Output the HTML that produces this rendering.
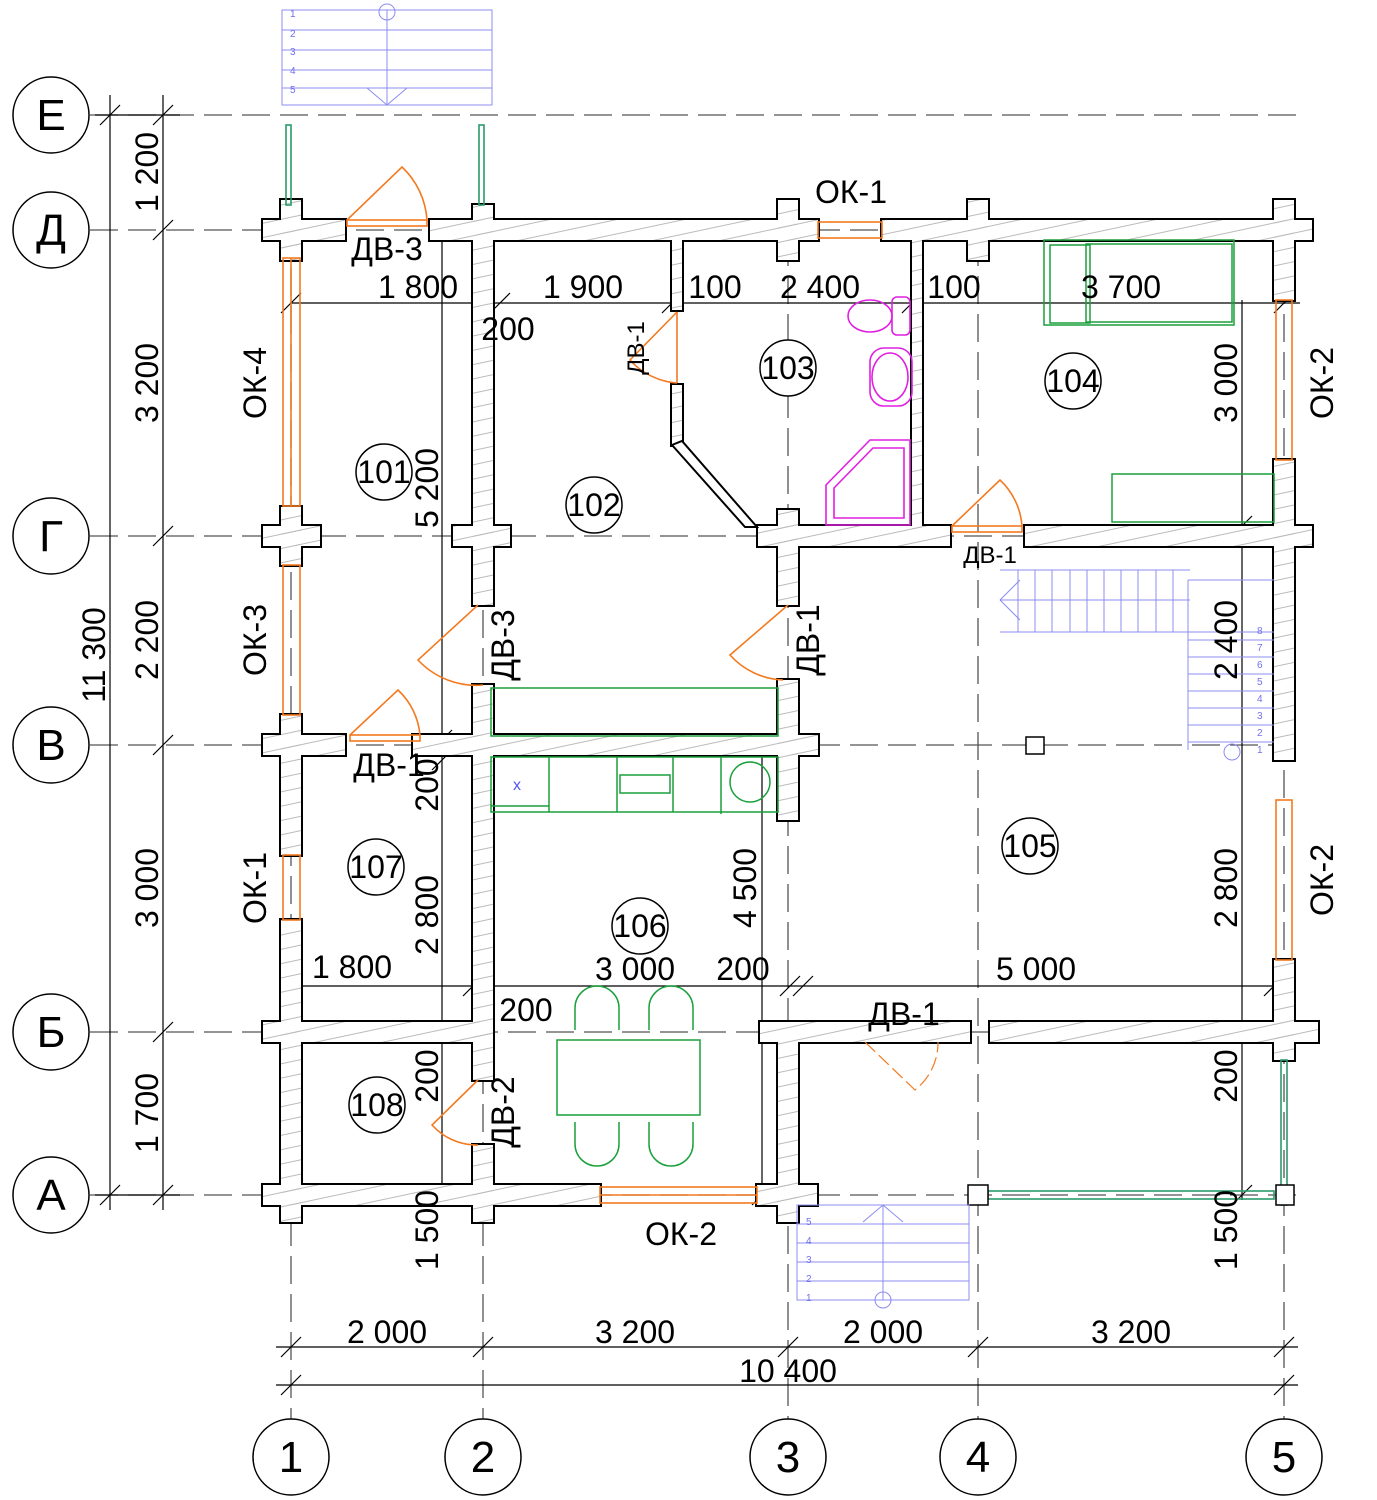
<!DOCTYPE html>
<html><head><meta charset="utf-8"><style>
html,body{margin:0;padding:0;background:#fff}
svg{display:block}
text{font-family:"Liberation Sans Narrow","Liberation Sans",sans-serif;fill:#000}
</style></head><body>
<svg width="1377" height="1500" viewBox="0 0 1377 1500" xmlns="http://www.w3.org/2000/svg">
<defs>
<pattern id="h" width="14" height="14" patternUnits="userSpaceOnUse" patternTransform="rotate(-12)">
<line x1="0" y1="7" x2="14" y2="7" stroke="#bbb" stroke-width="1"/></pattern>
<g id="w">
<rect x="263" y="220" width="82" height="20"/><rect x="281" y="200" width="20" height="60"/>
<rect x="430" y="220" width="388" height="20"/><rect x="473" y="205" width="20" height="30"/>
<rect x="778" y="200" width="20" height="60"/>
<rect x="882" y="220" width="430" height="20"/><rect x="968" y="200" width="20" height="60"/><rect x="1274" y="200" width="20" height="100"/>
<rect x="281" y="240" width="20" height="20"/>
<rect x="263" y="526" width="57" height="20"/><rect x="281" y="507" width="20" height="58"/>
<rect x="263" y="735" width="82" height="20"/><rect x="281" y="715" width="20" height="140"/>
<rect x="281" y="920" width="20" height="302"/>
<rect x="263" y="1022" width="209" height="20"/>
<rect x="263" y="1185" width="337" height="20"/>
<rect x="473" y="240" width="20" height="365"/>
<rect x="453" y="526" width="57" height="20"/>
<rect x="473" y="685" width="20" height="395"/>
<rect x="413" y="735" width="405" height="20"/>
<rect x="473" y="1145" width="20" height="77"/>
<rect x="472" y="1022" width="20" height="20"/>
<rect x="672" y="240" width="10" height="70"/><rect x="672" y="385" width="10" height="60"/>
<rect x="758" y="526" width="192" height="20"/><rect x="778" y="510" width="20" height="95"/>
<rect x="778" y="680" width="20" height="140"/>
<rect x="912" y="240" width="10" height="290"/>
<rect x="1025" y="526" width="287" height="20"/><rect x="1274" y="460" width="20" height="300"/>
<rect x="1274" y="960" width="20" height="100"/>
<rect x="760" y="1022" width="210" height="20"/><rect x="990" y="1022" width="328" height="20"/>
<rect x="778" y="1042" width="20" height="180"/><rect x="757" y="1185" width="60" height="20"/>
</g>
</defs>
<!-- axes -->
<g stroke="#555" stroke-width="1.3" stroke-dasharray="28,10" fill="none">
<line x1="90" y1="115" x2="1300" y2="115"/>
<line x1="90" y1="230" x2="1300" y2="230"/>
<line x1="90" y1="536" x2="1300" y2="536"/>
<line x1="90" y1="745" x2="1300" y2="745"/>
<line x1="90" y1="1032" x2="1300" y2="1032"/>
<line x1="90" y1="1195" x2="1300" y2="1195"/>
<line x1="291" y1="230" x2="291" y2="1420"/>
<line x1="483" y1="230" x2="483" y2="1420"/>
<line x1="788" y1="200" x2="788" y2="1420"/>
<line x1="978" y1="200" x2="978" y2="1420"/>
<line x1="1284" y1="200" x2="1284" y2="1420"/>
</g>
<!-- dimension lines -->
<g stroke="#000" stroke-width="1.2" fill="none">
<line x1="110" y1="95" x2="110" y2="1210"/>
<line x1="163" y1="95" x2="163" y2="1210"/>
<line x1="95" y1="115" x2="180" y2="115"/><line x1="95" y1="1195" x2="180" y2="1195"/>
<line x1="276" y1="1347" x2="1298" y2="1347"/>
<line x1="276" y1="1385" x2="1298" y2="1385"/>
<line x1="290" y1="303" x2="1300" y2="303"/>
<line x1="290" y1="986" x2="1290" y2="986"/>
<line x1="442" y1="240" x2="442" y2="1195"/>
<line x1="1242" y1="300" x2="1242" y2="1200"/>
<line x1="762" y1="750" x2="762" y2="1200"/>
<line x1="672" y1="260" x2="672" y2="310"/>
</g>
<g stroke="#000" stroke-width="1.2">
<path d="M100 125l20-20M153 125l20-20M153 240l20-20M153 546l20-20M153 755l20-20M153 1042l20-20M100 1205l20-20M153 1205l20-20"/>
<path d="M281 1357l20-20M473 1357l20-20M778 1357l20-20M968 1357l20-20M1274 1357l20-20M281 1395l20-20M1274 1395l20-20"/>
<path d="M281 313l20-20M473 313l20-20M490 313l20-20M662 313l20-20M902 313l20-20M1274 313l20-20M281 996l20-20M463 996l20-20M780 996l20-20M793 996l20-20M1264 996l20-20"/>
<path d="M432 750l20-20M432 770l20-20M1232 1042l20-20M1232 1205l20-20M1232 536l20-20M752 1205l20-20"/>
</g>
<!-- walls -->
<use href="#w" fill="#fff" stroke="#000" stroke-width="4"/>
<use href="#w" fill="#fff" stroke="none"/>
<use href="#w" fill="url(#h)" stroke="none"/>
<path d="M672 445L745 527L757 527L682 441Z" fill="#fff" stroke="#000" stroke-width="2"/>
<!-- windows orange -->
<g stroke="#f47a20" stroke-width="1.6" fill="none">
<rect x="283" y="258" width="17" height="248"/><line x1="291" y1="258" x2="291" y2="506"/>
<rect x="283" y="565" width="17" height="150"/>
<rect x="283" y="855" width="17" height="65"/>
<rect x="818" y="222" width="64" height="16"/>
<rect x="1276" y="300" width="16" height="160"/>
<rect x="1276" y="800" width="16" height="160"/>
<rect x="600" y="1187" width="157" height="16"/><line x1="600" y1="1195" x2="757" y2="1195"/>
<rect x="347" y="220" width="80" height="6"/><path d="M347 220L402 167A80 80 0 0 1 427 220"/>
<rect x="350" y="735" width="70" height="6"/><path d="M350 735L398 690A70 70 0 0 1 420 735"/>
<rect x="952" y="526" width="70" height="6"/><path d="M952 526L1000 480A70 70 0 0 1 1022 526"/>
<path d="M478 605L418 660A80 80 0 0 0 483 685"/>
<path d="M788 605L730 655A75 75 0 0 0 783 680"/>
<path d="M677 312L630 360A70 70 0 0 0 677 383"/><line x1="677" y1="312" x2="677" y2="383"/>
<path d="M478 1080L432 1125A60 60 0 0 0 478 1145"/>
<path d="M865 1042L915 1090A60 60 0 0 0 938 1042" stroke-dasharray="14,5" stroke-width="1.2"/>
</g>
<!-- glass green -->
<g stroke="#2a9a6a" stroke-width="1.6" fill="none">
<rect x="286" y="125" width="5" height="80"/><rect x="479" y="125" width="5" height="80"/>
<rect x="988" y="1191" width="286" height="8"/><rect x="1281" y="1060" width="6" height="145"/>
</g>
<rect x="968" y="1185" width="20" height="20" fill="#fff" stroke="#000" stroke-width="1.5"/>
<rect x="1276" y="1185" width="18" height="20" fill="#fff" stroke="#000" stroke-width="1.5"/>
<rect x="1026" y="737" width="18" height="17" fill="#fff" stroke="#000" stroke-width="1.5"/>
<!-- stairs blue -->
<g stroke="#8c8cf0" stroke-width="1" fill="none">
<rect x="282" y="10" width="210" height="95"/>
<path d="M282 30h210M282 50h210M282 70h210M282 88h210M387 10v95M367 88l20 17l20-17"/><circle cx="387" cy="12" r="8"/>
<rect x="797" y="1205" width="172" height="95"/>
<path d="M797 1224h172M797 1243h172M797 1262h172M797 1281h172M883 1205v95M863 1222l20-17l20 17"/><circle cx="883" cy="1300" r="8"/>
<path d="M1000 570h190M1000 632h190M1018 570v62M1035 570v62M1052 570v62M1070 570v62M1087 570v62M1104 570v62M1121 570v62M1138 570v62M1156 570v62M1173 570v62M1000 600l20-20M1000 600l20 20M1000 600h190"/>
<path d="M1188 580h86M1188 750V580M1188 632h86M1188 640h86M1188 657h86M1188 674h86M1188 691h86M1188 708h86M1188 725h86M1188 742h86"/><circle cx="1232" cy="752" r="8"/>
</g>
<g font-size="10" style="font-family:'Liberation Sans',sans-serif">
<text x="290" y="17" style="fill:#7070ee">1</text><text x="290" y="37" style="fill:#7070ee">2</text><text x="290" y="55" style="fill:#7070ee">3</text><text x="290" y="74" style="fill:#7070ee">4</text><text x="290" y="93" style="fill:#7070ee">5</text>
<text x="806" y="1225" style="fill:#7070ee">5</text><text x="806" y="1244" style="fill:#7070ee">4</text><text x="806" y="1263" style="fill:#7070ee">3</text><text x="806" y="1282" style="fill:#7070ee">2</text><text x="806" y="1301" style="fill:#7070ee">1</text>
<text x="1257" y="634" style="fill:#7070ee">8</text><text x="1257" y="651" style="fill:#7070ee">7</text><text x="1257" y="668" style="fill:#7070ee">6</text><text x="1257" y="685" style="fill:#7070ee">5</text><text x="1257" y="702" style="fill:#7070ee">4</text><text x="1257" y="719" style="fill:#7070ee">3</text><text x="1257" y="736" style="fill:#7070ee">2</text><text x="1257" y="753" style="fill:#7070ee">1</text>
</g>
<!-- furniture green -->
<g stroke="#1aa03a" stroke-width="1.5" fill="none">
<rect x="1044" y="240" width="190" height="85"/><rect x="1050" y="245" width="40" height="78"/><rect x="1086" y="244" width="146" height="78"/>
<rect x="1112" y="474" width="162" height="48"/>
<rect x="491" y="688" width="287" height="48"/>
<rect x="491" y="757" width="287" height="55"/><path d="M549 757v55M617 757v55M673 757v55M721 757v57M491 806h58"/>
<rect x="620" y="775" width="50" height="18"/><circle cx="750" cy="782" r="20"/>
<rect x="557" y="1040" width="143" height="75"/>
<path d="M575 1030v-22a22 22 0 0 1 44 0v22M649 1030v-22a22 22 0 0 1 44 0v22M575 1122v22a22 22 0 0 0 44 0v-22M649 1122v22a22 22 0 0 0 44 0v-22"/>
</g>
<text x="513" y="790" font-size="16" style="fill:#5555ee">x</text>
<!-- sanitary magenta -->
<g stroke="#e020e0" stroke-width="1.6" fill="none">
<ellipse cx="870" cy="316" rx="22" ry="16"/><rect x="892" y="297" width="18" height="38" rx="5"/>
<rect x="870" y="348" width="42" height="58" rx="14"/><ellipse cx="890" cy="377" rx="18" ry="24"/>
<path d="M826 485L870 440H910V525H826Z"/><path d="M834 488L873 448H904V518H834Z"/>
</g>
<!-- circles -->
<g stroke="#000" stroke-width="1.5" fill="#fff">
<circle cx="51" cy="115" r="38"/><circle cx="51" cy="230" r="38"/><circle cx="51" cy="536" r="38"/><circle cx="51" cy="745" r="38"/><circle cx="51" cy="1032" r="38"/><circle cx="51" cy="1195" r="38"/>
<circle cx="291" cy="1457" r="38"/><circle cx="483" cy="1457" r="38"/><circle cx="788" cy="1457" r="38"/><circle cx="978" cy="1457" r="38"/><circle cx="1284" cy="1457" r="38"/>
<circle cx="384" cy="472" r="28"/><circle cx="594" cy="505" r="28"/><circle cx="788" cy="368" r="28"/><circle cx="1073" cy="381" r="28"/><circle cx="376" cy="867" r="28"/><circle cx="640" cy="926" r="28"/><circle cx="1030" cy="846" r="28"/><circle cx="377" cy="1105" r="28"/>
</g>
<g font-size="44" text-anchor="middle">
<text x="51" y="130">Е</text><text x="51" y="245">Д</text><text x="51" y="551">Г</text><text x="51" y="760">В</text><text x="51" y="1047">Б</text><text x="51" y="1210">А</text>
<text x="291" y="1472">1</text><text x="483" y="1472">2</text><text x="788" y="1472">3</text><text x="978" y="1472">4</text><text x="1284" y="1472">5</text>
</g>
<g font-size="32" text-anchor="middle">
<text x="384" y="483">101</text><text x="594" y="516">102</text><text x="788" y="379">103</text><text x="1073" y="392">104</text><text x="376" y="878">107</text><text x="640" y="937">106</text><text x="1030" y="857">105</text><text x="377" y="1116">108</text>
<text x="418" y="298">1 800</text><text x="583" y="298">1 900</text><text x="715" y="298">100</text><text x="820" y="298">2 400</text><text x="954" y="298">100</text><text x="1121" y="298">3 700</text>
<text x="508" y="340">200</text><text x="352" y="978">1 800</text><text x="635" y="980">3 000</text><text x="743" y="980">200</text><text x="1036" y="980">5 000</text><text x="526" y="1021">200</text>
<text x="387" y="1343">2 000</text><text x="635" y="1343">3 200</text><text x="883" y="1343">2 000</text><text x="1131" y="1343">3 200</text><text x="788" y="1382">10 400</text>
<text x="851" y="203">ОК-1</text><text x="387" y="260">ДВ-3</text><text x="389" y="776">ДВ-1</text><text x="904" y="1025">ДВ-1</text><text x="681" y="1245">ОК-2</text>
<text x="990" y="563" font-size="24">ДВ-1</text>
</g>
<g font-size="32" text-anchor="middle">
<text transform="translate(158,172) rotate(-90)">1 200</text>
<text transform="translate(158,383) rotate(-90)">3 200</text>
<text transform="translate(158,640) rotate(-90)">2 200</text>
<text transform="translate(158,888) rotate(-90)">3 000</text>
<text transform="translate(158,1113) rotate(-90)">1 700</text>
<text transform="translate(105,655) rotate(-90)">11 300</text>
<text transform="translate(266,383) rotate(-90)">ОК-4</text>
<text transform="translate(266,640) rotate(-90)">ОК-3</text>
<text transform="translate(266,888) rotate(-90)">ОК-1</text>
<text transform="translate(438,488) rotate(-90)">5 200</text>
<text transform="translate(644,348) rotate(-90)" font-size="24">ДВ-1</text>
<text transform="translate(514,645) rotate(-90)">ДВ-3</text>
<text transform="translate(819,640) rotate(-90)">ДВ-1</text>
<text transform="translate(438,785) rotate(-90)">200</text>
<text transform="translate(438,915) rotate(-90)">2 800</text>
<text transform="translate(438,1076) rotate(-90)">200</text>
<text transform="translate(438,1230) rotate(-90)">1 500</text>
<text transform="translate(514,1112) rotate(-90)">ДВ-2</text>
<text transform="translate(756,888) rotate(-90)">4 500</text>
<text transform="translate(1237,383) rotate(-90)">3 000</text>
<text transform="translate(1333,383) rotate(-90)">ОК-2</text>
<text transform="translate(1237,640) rotate(-90)">2 400</text>
<text transform="translate(1237,888) rotate(-90)">2 800</text>
<text transform="translate(1333,880) rotate(-90)">ОК-2</text>
<text transform="translate(1237,1076) rotate(-90)">200</text>
<text transform="translate(1237,1230) rotate(-90)">1 500</text>
</g>
</svg>
</body></html>
